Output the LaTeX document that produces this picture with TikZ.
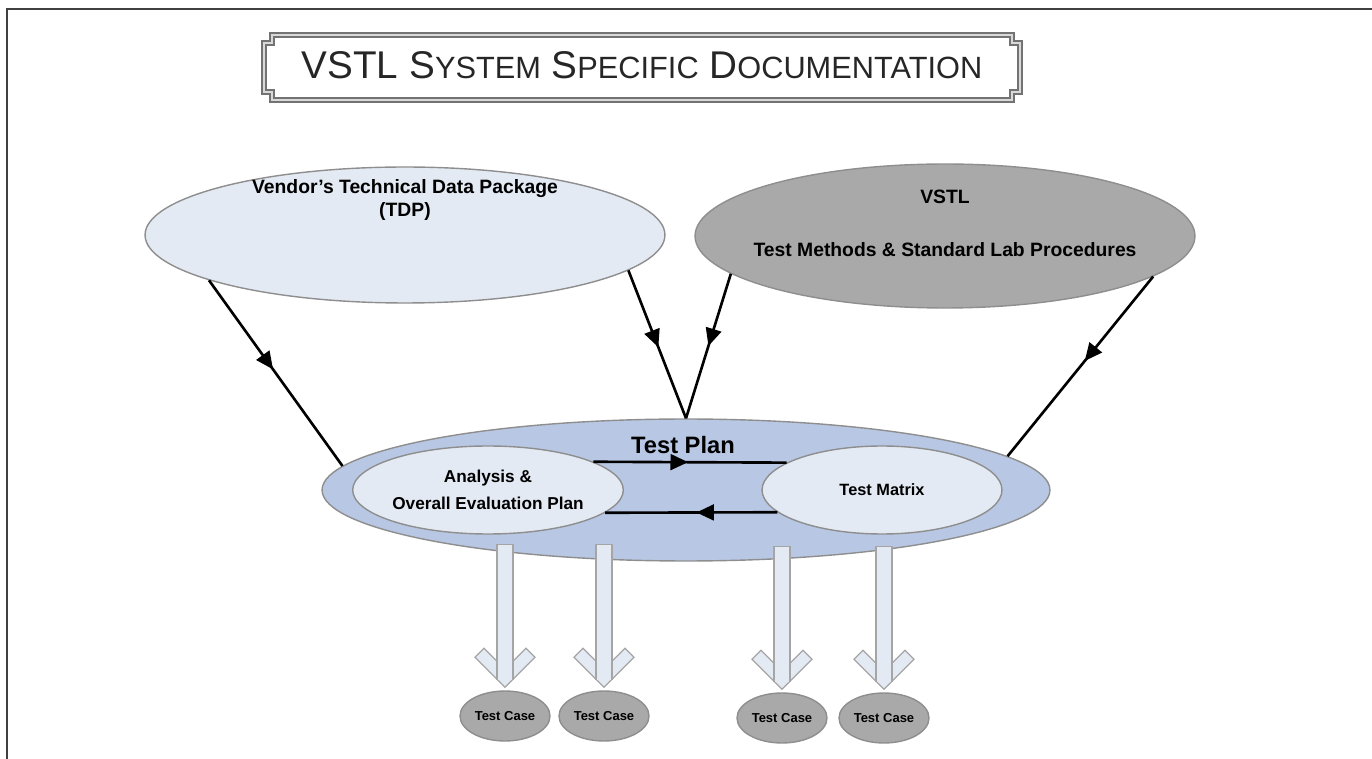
\documentclass[tikz,border=0pt]{standalone}
\usepackage{fontspec}
\setmainfont{Liberation Sans}
\usetikzlibrary{shapes.geometric,arrows.meta,decorations.markings}

\definecolor{paleblue}{HTML}{E4EAF4}
\definecolor{planblue}{HTML}{B8C8E4}
\definecolor{boxgrey}{HTML}{A9A9A9}
\definecolor{edgegrey}{HTML}{8E8E8E}

\newcommand{\tinycaps}[1]{{\fontsize{17.5}{20}\selectfont #1}}

\tikzset{
  blob/.style={ellipse, draw=edgegrey, line width=0.8pt, inner sep=0pt},
  midarrow/.style={postaction={decorate},
    decoration={markings, mark=at position #1 with {\arrow{Triangle[length=10pt,width=9pt]}}}},
  feed/.style={black, line width=1.5pt},
  block/.style={draw=edgegrey!80, fill=paleblue, line width=0.7pt},
  caption/.style={font=\bfseries\fontsize{11}{13}\selectfont, align=center},
}

\begin{document}
\begin{tikzpicture}[x=0.02cm, y=-0.02cm]
    \useasboundingbox (0,0) rectangle (1372,759);
    % Frame
    \draw[line width=1.2pt, black!75] (7,759) -- (7,9) -- (1372,9);
    % Title plaque
    \draw[line width=1.2pt, black!55, double=black!15, double distance=1pt]
        (272,35) -- (1012,35) -- (1012,43) -- (1020,43) -- (1020,92) -- (1012,92)
        -- (1012,100) -- (272,100) -- (272,92) -- (264,92) -- (264,43) -- (272,43) -- cycle;
    \node[text=black!85] (title) at (642,65)
        {\fontsize{22}{25}\selectfont VSTL S\tinycaps{YSTEM} S\tinycaps{PECIFIC} D\tinycaps{OCUMENTATION}};
    % Sources
    \node[blob, fill=paleblue, minimum width=10.4cm, minimum height=2.72cm] (tdp) at (405,235) {};
    \node[caption] (tdptext) at (405,200) {Vendor’s Technical Data Package\\(TDP)};
    \node[blob, fill=boxgrey, minimum width=10cm, minimum height=2.88cm] (vstl) at (945,236) {};
    \node[caption] (vstlname) at (945,197) {VSTL};
    \node[caption] (vstlsub) at (945,250) {Test Methods \& Standard Lab Procedures};
    % Test plan
    \node[blob, fill=planblue, minimum width=14.56cm, minimum height=2.84cm] (plan) at (686,490) {};
    \node[font=\bfseries\fontsize{13.5}{15}\selectfont] (plantext) at (683,445) {Test Plan};
    \node[blob, fill=paleblue, minimum width=5.2cm, minimum height=1.76cm,
          font=\bfseries\fontsize{9.8}{15}\selectfont, align=center] (anal) at (488,490)
          {Analysis \&\\Overall Evaluation Plan};
    \node[blob, fill=paleblue, minimum width=4.8cm, minimum height=1.76cm,
          font=\bfseries\fontsize{9.3}{11}\selectfont] (matrix) at (882,490) {Test Matrix};
    % Feeds into the plan
    \coordinate (meet) at (plan.north);
    \draw[feed, midarrow=0.48] (tdp.193) -- (plan.176.5);
    \draw[feed, midarrow=0.47] (vstl.-11) -- (plan.6.5);
    \draw[feed, midarrow=0.52] (tdp.-9) -- (meet);
    \draw[feed, midarrow=0.5] (vstl.190) -- (meet);
    \draw[feed, midarrow=0.49] (anal.15) -- (matrix.164);
    \draw[feed, midarrow=0.47] (matrix.192) -- (anal.-11);
    % Test cases
    \node[blob, fill=boxgrey, minimum width=1.8cm, minimum height=1cm,
          font=\bfseries\fontsize{7.4}{9}\selectfont] (tc1) at (505,716) {Test Case};
    \node[blob, fill=boxgrey, minimum width=1.8cm, minimum height=1cm,
          font=\bfseries\fontsize{7.4}{9}\selectfont] (tc2) at (604,716) {Test Case};
    \node[blob, fill=boxgrey, minimum width=1.8cm, minimum height=1cm,
          font=\bfseries\fontsize{7.4}{9}\selectfont] (tc3) at (782,718) {Test Case};
    \node[blob, fill=boxgrey, minimum width=1.8cm, minimum height=1cm,
          font=\bfseries\fontsize{7.4}{9}\selectfont] (tc4) at (884,718) {Test Case};
    \foreach \i in {1,...,4} {
        \draw[block] ([shift={(0,-3)}]tc\i.north) -- ++(-30,-30) -- ++(9,-9) -- ++(21,21)
            -- ++(21,-21) -- ++(9,9) -- cycle;
        \draw[block] ([shift={(-8,-10)}]tc\i.north) -- ++(0,-136) -- ++(16,0) -- ++(0,136);
    }
\end{tikzpicture}
\end{document}
